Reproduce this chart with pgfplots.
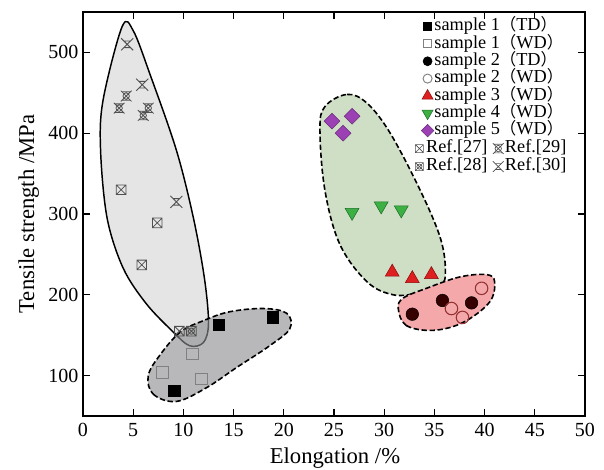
\documentclass[border=0pt]{standalone}
\usepackage{fontspec}
\setmainfont{Liberation Serif}
\newfontfamily\cjk{Noto Sans CJK SC}[Scale=0.9]
\usepackage{pgfplots}
\pgfplotsset{compat=1.18}
\definecolor{lightblob}{RGB}{229,229,229}
\definecolor{darkblob}{RGB}{140,141,144}
\definecolor{greenblob}{RGB}{207,223,197}
\definecolor{pinkblob}{RGB}{244,168,170}
\definecolor{refgray}{RGB}{80,80,80}
\definecolor{sredfill}{RGB}{222,32,32}
\definecolor{sreddraw}{RGB}{140,10,10}
\definecolor{sgreenfill}{RGB}{60,176,67}
\definecolor{sgreendraw}{RGB}{30,110,40}
\definecolor{spurple}{RGB}{155,65,180}
\definecolor{smaroon}{RGB}{55,0,0}
\definecolor{sopenred}{RGB}{150,50,50}
\pgfdeclareplotmark{boxx}{%
  \pgfpathrectangle{\pgfpoint{-\pgfplotmarksize}{-\pgfplotmarksize}}{\pgfpoint{2\pgfplotmarksize}{2\pgfplotmarksize}}%
  \pgfpathmoveto{\pgfpoint{-\pgfplotmarksize}{-\pgfplotmarksize}}\pgfpathlineto{\pgfpoint{\pgfplotmarksize}{\pgfplotmarksize}}%
  \pgfpathmoveto{\pgfpoint{-\pgfplotmarksize}{\pgfplotmarksize}}\pgfpathlineto{\pgfpoint{\pgfplotmarksize}{-\pgfplotmarksize}}%
  \pgfusepathqstroke}
\pgfdeclareplotmark{boxotimes}{%
  \pgfpathrectangle{\pgfpoint{-\pgfplotmarksize}{-\pgfplotmarksize}}{\pgfpoint{2\pgfplotmarksize}{2\pgfplotmarksize}}%
  \pgfpathcircle{\pgfpointorigin}{0.65\pgfplotmarksize}%
  \pgfpathmoveto{\pgfpoint{-\pgfplotmarksize}{-\pgfplotmarksize}}\pgfpathlineto{\pgfpoint{\pgfplotmarksize}{\pgfplotmarksize}}%
  \pgfpathmoveto{\pgfpoint{-\pgfplotmarksize}{\pgfplotmarksize}}\pgfpathlineto{\pgfpoint{\pgfplotmarksize}{-\pgfplotmarksize}}%
  \pgfusepathqstroke}
\pgfdeclareplotmark{hourglass}{%
  \pgfpathmoveto{\pgfpoint{-\pgfplotmarksize}{-\pgfplotmarksize}}\pgfpathlineto{\pgfpoint{\pgfplotmarksize}{\pgfplotmarksize}}%
  \pgfpathmoveto{\pgfpoint{-\pgfplotmarksize}{\pgfplotmarksize}}\pgfpathlineto{\pgfpoint{\pgfplotmarksize}{-\pgfplotmarksize}}%
  \pgfpathmoveto{\pgfpoint{-0.55\pgfplotmarksize}{0.55\pgfplotmarksize}}\pgfpathlineto{\pgfpoint{0.55\pgfplotmarksize}{0.55\pgfplotmarksize}}%
  \pgfpathmoveto{\pgfpoint{-0.55\pgfplotmarksize}{-0.55\pgfplotmarksize}}\pgfpathlineto{\pgfpoint{0.55\pgfplotmarksize}{-0.55\pgfplotmarksize}}%
  \pgfusepathqstroke}
\pgfdeclareplotmark{hourglasscirc}{%
  \pgfpathmoveto{\pgfpoint{-\pgfplotmarksize}{-\pgfplotmarksize}}\pgfpathlineto{\pgfpoint{\pgfplotmarksize}{\pgfplotmarksize}}%
  \pgfpathmoveto{\pgfpoint{-\pgfplotmarksize}{\pgfplotmarksize}}\pgfpathlineto{\pgfpoint{\pgfplotmarksize}{-\pgfplotmarksize}}%
  \pgfpathmoveto{\pgfpoint{-0.8\pgfplotmarksize}{0.8\pgfplotmarksize}}\pgfpathlineto{\pgfpoint{0.8\pgfplotmarksize}{0.8\pgfplotmarksize}}%
  \pgfpathmoveto{\pgfpoint{-0.8\pgfplotmarksize}{-0.8\pgfplotmarksize}}\pgfpathlineto{\pgfpoint{0.8\pgfplotmarksize}{-0.8\pgfplotmarksize}}%
  \pgfpathcircle{\pgfpointorigin}{0.6\pgfplotmarksize}%
  \pgfusepathqstroke}
\pgfplotsset{
  mylegend/.style={draw=none, fill=none,
    font=\fontsize{13.7}{14}\selectfont, row sep=0pt, inner sep=0pt,
    nodes={inner sep=0.3pt, text height=9.4pt, text depth=3pt}},
  legend image code/.code={\path (0pt,0pt) (9pt,0pt);\draw[#1] plot coordinates {(4.5pt,0pt)};},
}
\begin{document}
\begin{tikzpicture}
\path[use as bounding box] (-62.25pt,-40.5pt) rectangle (390.75pt,312pt);
\begin{axis}[
  scale only axis, width=376.5pt, height=303pt,
  xmin=0, xmax=50, ymin=50, ymax=550,
  xtick={0,5,...,50}, ytick={100,200,300,400,500},
  tick align=inside, major tick length=5pt,
  tick style={black, line width=0.8pt},
  axis line style={line width=0.8pt},
  /pgf/number format/assume math mode=true,
  ticklabel style={font=\fontsize{15}{17}\selectfont},
  xticklabel style={yshift=-2pt},
  every axis y label/.style={at={(axis description cs:-0.108,0.5)}, rotate=90, anchor=center, font=\fontsize{17}{19}\selectfont},
  every axis x label/.style={at={(axis description cs:0.502,-0.104)}, anchor=center, font=\fontsize{17}{19}\selectfont},
  xlabel={Elongation /\%}, ylabel={Tensile strength /MPa},
  legend style={at={(0.673,0.986)}, anchor=north west, mylegend},
  legend cell align=left,
]
% regions
\addplot[forget plot, draw=black, line width=1.1pt, fill=lightblob, smooth cycle, tension=0.55] coordinates {
 (3.9,532) (2.0,441) (1.75,379) (2.4,295) (4.0,233) (6.3,189) (8.9,155)
 (10.6,137) (12.0,141) (12.5,165) (12.1,220) (11.0,295) (9.3,379) (6.7,472) (5.0,527)};
\addplot[forget plot, draw=black, line width=1.2pt, dash pattern=on 4pt off 2pt, fill=darkblob, fill opacity=0.62, smooth cycle, tension=0.6] coordinates {
 (6.5,100) (7.0,77) (9.3,68) (12.3,85) (15.3,110) (18.6,137) (20.6,158) (20.3,177)
 (18.0,183) (14.6,179) (12.0,168) (9.7,154) (7.7,126)};
\addplot[forget plot, draw=black, line width=1.2pt, dash pattern=on 4pt off 2pt, fill=greenblob, smooth cycle, tension=0.6] coordinates {
 (24.1,433) (26.3,448) (28.3,437) (30.6,400) (33.6,329) (35.6,270) (36.1,229)
 (35.6,212) (33.2,202) (30.9,200) (28.3,216) (25.6,262) (24.1,329) (23.6,404)};
\addplot[forget plot, draw=black, line width=1.2pt, dash pattern=on 4pt off 2pt, fill=pinkblob, smooth cycle, tension=0.6] coordinates {
 (31.4,183) (32.2,162) (34.9,156) (37.9,166) (40.5,191) (41.0,216) (40.2,225)
 (37.5,222) (34.2,208) (31.9,196)};
% references
\addplot[forget plot, only marks, mark=boxx, mark size=3.6pt, refgray, line width=0.6pt] coordinates {(3.8,330) (7.4,289) (5.85,237) (9.6,155)};
\addplot[forget plot, only marks, mark=boxotimes, mark size=3.6pt, refgray, line width=0.6pt] coordinates {(10.8,155)};
\addplot[forget plot, only marks, mark=hourglasscirc, mark size=4pt, refgray, line width=0.6pt] coordinates {(3.6,431) (4.3,446) (6.0,422) (6.5,431)};
\addplot[forget plot, only marks, mark=hourglass, mark size=4.5pt, refgray, line width=0.7pt] coordinates {(4.4,510) (5.9,460) (9.3,315)};
% samples
\addplot[forget plot, only marks, mark=square*, mark size=4.3pt, draw=black, fill=black] coordinates {(9.1,81) (13.5,163) (18.9,172)};
\addplot[forget plot, only marks, mark=square, mark size=4.3pt, draw=gray, line width=0.8pt] coordinates {(10.9,127) (7.9,104) (11.8,96)};
\addplot[forget plot, only marks, mark=*, mark size=4.7pt, draw=black, fill=smaroon] coordinates {(32.8,176) (35.8,193) (38.7,190)};
\addplot[forget plot, only marks, mark=o, mark size=4.7pt, draw=sopenred, line width=0.8pt] coordinates {(36.7,183) (37.8,172) (39.7,208)};
\addplot[forget plot, only marks, mark=triangle*, mark size=6pt, draw=sreddraw, fill=sredfill] coordinates {(30.8,228) (32.8,220) (34.7,225)};
\addplot[forget plot, only marks, mark=triangle*, mark size=6pt, mark options={rotate=180}, draw=sgreendraw, fill=sgreenfill] coordinates {(26.8,302) (29.7,310) (31.7,305)};
\addplot[forget plot, only marks, mark=square*, mark size=4.2pt, mark options={rotate=45}, draw=spurple!70!black, fill=spurple] coordinates {(24.8,415) (26.8,421) (25.9,400)};
% legend
\addlegendimage{only marks, mark=square*, mark size=3pt, draw=black, fill=black}
\addlegendentry{sample 1{\cjk（}TD{\cjk）}}
\addlegendimage{only marks, mark=square, mark size=3pt, draw=gray, line width=0.7pt}
\addlegendentry{sample 1{\cjk（}WD{\cjk）}}
\addlegendimage{only marks, mark=*, mark size=3.4pt, draw=black, fill=black}
\addlegendentry{sample 2{\cjk（}TD{\cjk）}}
\addlegendimage{only marks, mark=o, mark size=3.4pt, draw=gray, line width=0.7pt}
\addlegendentry{sample 2{\cjk（}WD{\cjk）}}
\addlegendimage{only marks, mark=triangle*, mark size=4.8pt, draw=sreddraw, fill=sredfill}
\addlegendentry{sample 3{\cjk（}WD{\cjk）}}
\addlegendimage{only marks, mark=triangle*, mark size=4.8pt, mark options={rotate=180}, draw=sgreendraw, fill=sgreenfill}
\addlegendentry{sample 4{\cjk（}WD{\cjk）}}
\addlegendimage{only marks, mark=square*, mark size=3.3pt, mark options={rotate=45}, draw=spurple!70!black, fill=spurple}
\addlegendentry{sample 5{\cjk（}WD{\cjk）}}
\end{axis}
\begin{axis}[
  scale only axis, width=376.5pt, height=303pt, hide axis,
  xmin=0, xmax=50, ymin=50, ymax=550,
  legend style={at={(0.657,0.684)}, anchor=north west, mylegend, row sep=0.5pt,
    /tikz/every even column/.append style={column sep=3pt}},
  legend columns=2, legend cell align=left,
]
\addlegendimage{only marks, mark=boxx, mark size=3pt, refgray, line width=0.5pt}
\addlegendentry{Ref.[27]}
\addlegendimage{only marks, mark=hourglasscirc, mark size=4pt, refgray, line width=0.5pt}
\addlegendentry{Ref.[29]}
\addlegendimage{only marks, mark=boxotimes, mark size=3pt, refgray, line width=0.5pt}
\addlegendentry{Ref.[28]}
\addlegendimage{only marks, mark=hourglass, mark size=4pt, refgray, line width=0.5pt}
\addlegendentry{Ref.[30]}
\end{axis}
\end{tikzpicture}
\end{document}
